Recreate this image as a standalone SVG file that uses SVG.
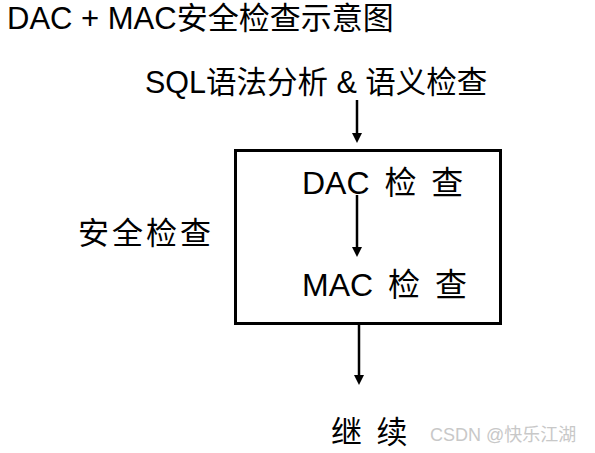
<svg xmlns="http://www.w3.org/2000/svg" width="595" height="453" viewBox="0 0 595 453">
<defs>
<style>
.t{font-family:"Liberation Sans","Noto Sans CJK SC",sans-serif;fill:#000}
.c{stroke:#000;stroke-width:2.5;fill:none}
.wm{font-family:"Liberation Sans","Noto Sans CJK SC",sans-serif;fill:#c8c8c8;font-size:18px}
</style>
<marker id="ah" markerUnits="userSpaceOnUse" markerWidth="11" markerHeight="11" refX="6" refY="5" orient="auto">
<path d="M0,0 L10,5 L0,10 z" fill="#000"/>
</marker>
</defs>
<rect width="595" height="453" fill="#fff"/>
<g id="title"><text class="t" x="7" y="29" font-size="31">DAC + MAC安全检查示意图</text></g>
<g id="sql"><text class="t" x="145" y="93" font-size="30.5">SQL语法分析 &amp; 语义检查</text></g>
<g id="security-box">
<rect x="235.5" y="150.5" width="265" height="173" fill="none" stroke="#000" stroke-width="3"/>
</g>
<g id="security-label"><text class="t" x="78" y="244" font-size="31" letter-spacing="3">安全检查</text></g>
<g id="dac"><text class="t" x="302" y="194" font-size="32" word-spacing="6">DAC 检 查</text></g>
<g id="mac"><text class="t" x="302" y="296" font-size="32" word-spacing="6">MAC 检 查</text></g>
<g id="continue"><text class="t" x="331" y="443" font-size="31" word-spacing="6">继 续</text></g>
<g id="connectors">
<line class="c" x1="357" y1="100" x2="357" y2="139" marker-end="url(#ah)"/>
<line class="c" x1="357" y1="195" x2="357" y2="253" marker-end="url(#ah)"/>
<line class="c" x1="359" y1="325" x2="359" y2="381" marker-end="url(#ah)"/>
</g>
<g id="watermark"><text class="wm" x="430" y="441">CSDN @快乐江湖</text></g>
</svg>
